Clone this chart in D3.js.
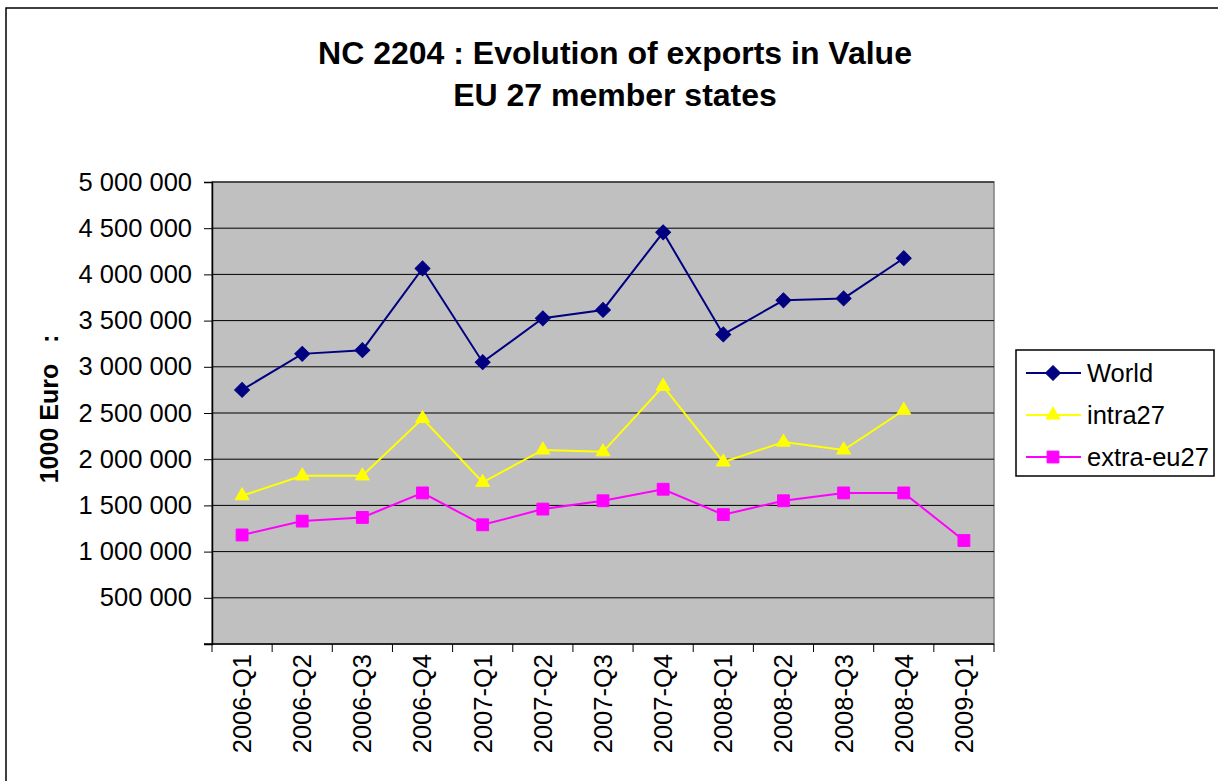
<!DOCTYPE html>
<html>
<head>
<meta charset="utf-8">
<script src="https://cdn.jsdelivr.net/npm/d3@7"></script>
<style>
  body { margin: 0; background: #fff; }
  text { font-family: Arial, "Liberation Sans", sans-serif; }
</style>
</head>
<body>
<div id="chart"></div>
<script>
// quarters on the x axis
var quarters = ["2006-Q1", "2006-Q2", "2006-Q3", "2006-Q4", "2007-Q1", "2007-Q2", "2007-Q3",
                "2007-Q4", "2008-Q1", "2008-Q2", "2008-Q3", "2008-Q4", "2009-Q1"];

// values in 1000 Euro (null = no data)
var world = [2750000, 3140000, 3180000, 4065000, 3050000, 3525000, 3615000, 4455000,
             3350000, 3720000, 3740000, 4175000, null];
var intra27 = [1605000, 1820000, 1820000, 2440000, 1750000, 2100000, 2080000, 2790000,
               1970000, 2185000, 2100000, 2530000, null];
var extraEu27 = [1180000, 1330000, 1370000, 1635000, 1290000, 1460000, 1550000, 1675000,
                 1400000, 1550000, 1635000, 1635000, 1120000];

var yTicks = [500000, 1000000, 1500000, 2000000, 2500000, 3000000, 3500000, 4000000, 4500000, 5000000];

var seriesNames = ["World", "intra27", "extra-eu27"];

var width = 1218, height = 781;
var plot = { left: 212, top: 182, right: 994, bottom: 644 };

var svg = d3.select("#chart").append("svg")
    .attr("width", width)
    .attr("height", height);

// outer chart border
svg.append("rect")
    .attr("x", 6).attr("y", 8)
    .attr("width", 1240).attr("height", 800)
    .attr("fill", "#fff")
    .attr("stroke", "#000")
    .attr("stroke-width", 1.5);

var x = d3.scaleBand().domain(quarters).range([plot.left, plot.right]);
var y = d3.scaleLinear().domain([0, 5000000]).range([plot.bottom, plot.top]);

var fmt = function(v) { return d3.format(",")(v).replace(/,/g, " "); };

// grey plot area
svg.append("rect")
    .attr("x", plot.left).attr("y", plot.top)
    .attr("width", plot.right - plot.left).attr("height", plot.bottom - plot.top)
    .attr("fill", "#c0c0c0")
    .attr("stroke", "#808080")
    .attr("stroke-width", 1.5);

// horizontal gridlines
svg.append("g")
    .selectAll("line")
    .data(yTicks)
    .enter().append("line")
    .attr("x1", plot.left).attr("x2", plot.right)
    .attr("y1", function(d) { return y(d); })
    .attr("y2", function(d) { return y(d); })
    .attr("stroke", "#000")
    .attr("stroke-width", 1);

// y axis
var yAxis = svg.append("g")
    .attr("transform", "translate(" + plot.left + ",0)")
    .call(d3.axisLeft(y).tickValues([0].concat(yTicks)).tickSize(8).tickPadding(12)
        .tickFormat(function(d) { return d === 0 ? "" : fmt(d); }));
yAxis.select(".domain").attr("stroke", "#000").attr("stroke-width", 1.5);
yAxis.selectAll(".tick line").attr("stroke", "#000");
yAxis.selectAll("text")
    .attr("font-size", "25.5px")
    .attr("font-family", "Arial, 'Liberation Sans', sans-serif")
    .attr("fill", "#000");

// x axis: ticks on band boundaries, labels rotated
var xAxisG = svg.append("g").attr("transform", "translate(0," + plot.bottom + ")");
xAxisG.append("line")
    .attr("x1", plot.left - 8).attr("x2", plot.right)
    .attr("stroke", "#000").attr("stroke-width", 1.5);
xAxisG.selectAll(".tk")
    .data(quarters.concat(["end"]))
    .enter().append("line")
    .attr("class", "tk")
    .attr("x1", function(d, i) { return plot.left + i * x.bandwidth(); })
    .attr("x2", function(d, i) { return plot.left + i * x.bandwidth(); })
    .attr("y1", 0).attr("y2", 8)
    .attr("stroke", "#000");
xAxisG.selectAll(".lbl")
    .data(quarters)
    .enter().append("text")
    .attr("class", "lbl")
    .attr("transform", function(d) { return "translate(" + (x(d) + x.bandwidth() / 2) + ",10) rotate(-90)"; })
    .attr("text-anchor", "end")
    .attr("dy", "0.35em")
    .attr("font-size", "25.5px")
    .text(function(d) { return d; });

// axis title
svg.append("text")
    .attr("transform", "translate(58," + ((plot.top + plot.bottom) / 2 - 4) + ") rotate(-90)")
    .attr("text-anchor", "middle")
    .attr("font-size", "25px")
    .attr("font-weight", "bold")
    .style("white-space", "pre")
    .text("1000 Euro   :");

// chart title
svg.append("text")
    .attr("x", 615).attr("y", 64)
    .attr("text-anchor", "middle")
    .attr("font-size", "32px")
    .attr("font-weight", "bold")
    .text("NC 2204 : Evolution of exports in Value");
svg.append("text")
    .attr("x", 615).attr("y", 106)
    .attr("text-anchor", "middle")
    .attr("font-size", "32px")
    .attr("font-weight", "bold")
    .text("EU 27 member states");

var series = [
    { name: seriesNames[0], values: world, color: "#000080", symbol: d3.symbolDiamond, size: 110, rot: 45 },
    { name: seriesNames[1], values: intra27, color: "#ffff00", symbol: d3.symbolTriangle, size: 85, rot: 0 },
    { name: seriesNames[2], values: extraEu27, color: "#ff00ff", symbol: d3.symbolSquare, size: 140, rot: 0 }
];

function cx(i) { return x(quarters[i]) + x.bandwidth() / 2; }

// Diamond from d3 is tall; use a square rotated 45 deg for the Excel-style diamond
function markerPath(s) {
    if (s.symbol === d3.symbolDiamond) return d3.symbol().type(d3.symbolSquare).size(s.size)();
    return d3.symbol().type(s.symbol).size(s.size)();
}

var line = d3.line()
    .defined(function(d) { return d != null; })
    .x(function(d, i) { return cx(i); })
    .y(function(d) { return y(d); });

series.forEach(function(s) {
    svg.append("path")
        .attr("d", line(s.values))
        .attr("fill", "none")
        .attr("stroke", s.color)
        .attr("stroke-width", 2);

    svg.append("g")
        .selectAll("path")
        .data(s.values.map(function(v, i) { return { v: v, i: i }; }).filter(function(d) { return d.v != null; }))
        .enter().append("path")
        .attr("d", markerPath(s))
        .attr("transform", function(d) {
            return "translate(" + cx(d.i) + "," + y(d.v) + ") rotate(" + s.rot + ")";
        })
        .attr("fill", s.color)
        .attr("stroke", s.color)
        .attr("stroke-width", 1);
});

// legend
var legend = svg.append("g");
legend.append("rect")
    .attr("x", 1016).attr("y", 350)
    .attr("width", 198).attr("height", 126)
    .attr("fill", "#fff")
    .attr("stroke", "#000")
    .attr("stroke-width", 1.5);

series.forEach(function(s, i) {
    var ly = 373 + i * 42;
    legend.append("line")
        .attr("x1", 1026).attr("x2", 1081)
        .attr("y1", ly).attr("y2", ly)
        .attr("stroke", s.color)
        .attr("stroke-width", 2);
    legend.append("path")
        .attr("d", markerPath(s))
        .attr("transform", "translate(1053," + ly + ") rotate(" + s.rot + ")")
        .attr("fill", s.color)
        .attr("stroke", s.color);
    legend.append("text")
        .attr("x", 1087).attr("y", ly)
        .attr("dy", "0.35em")
        .attr("font-size", "25.5px")
        .text(s.name);
});
</script>
</body>
</html>
